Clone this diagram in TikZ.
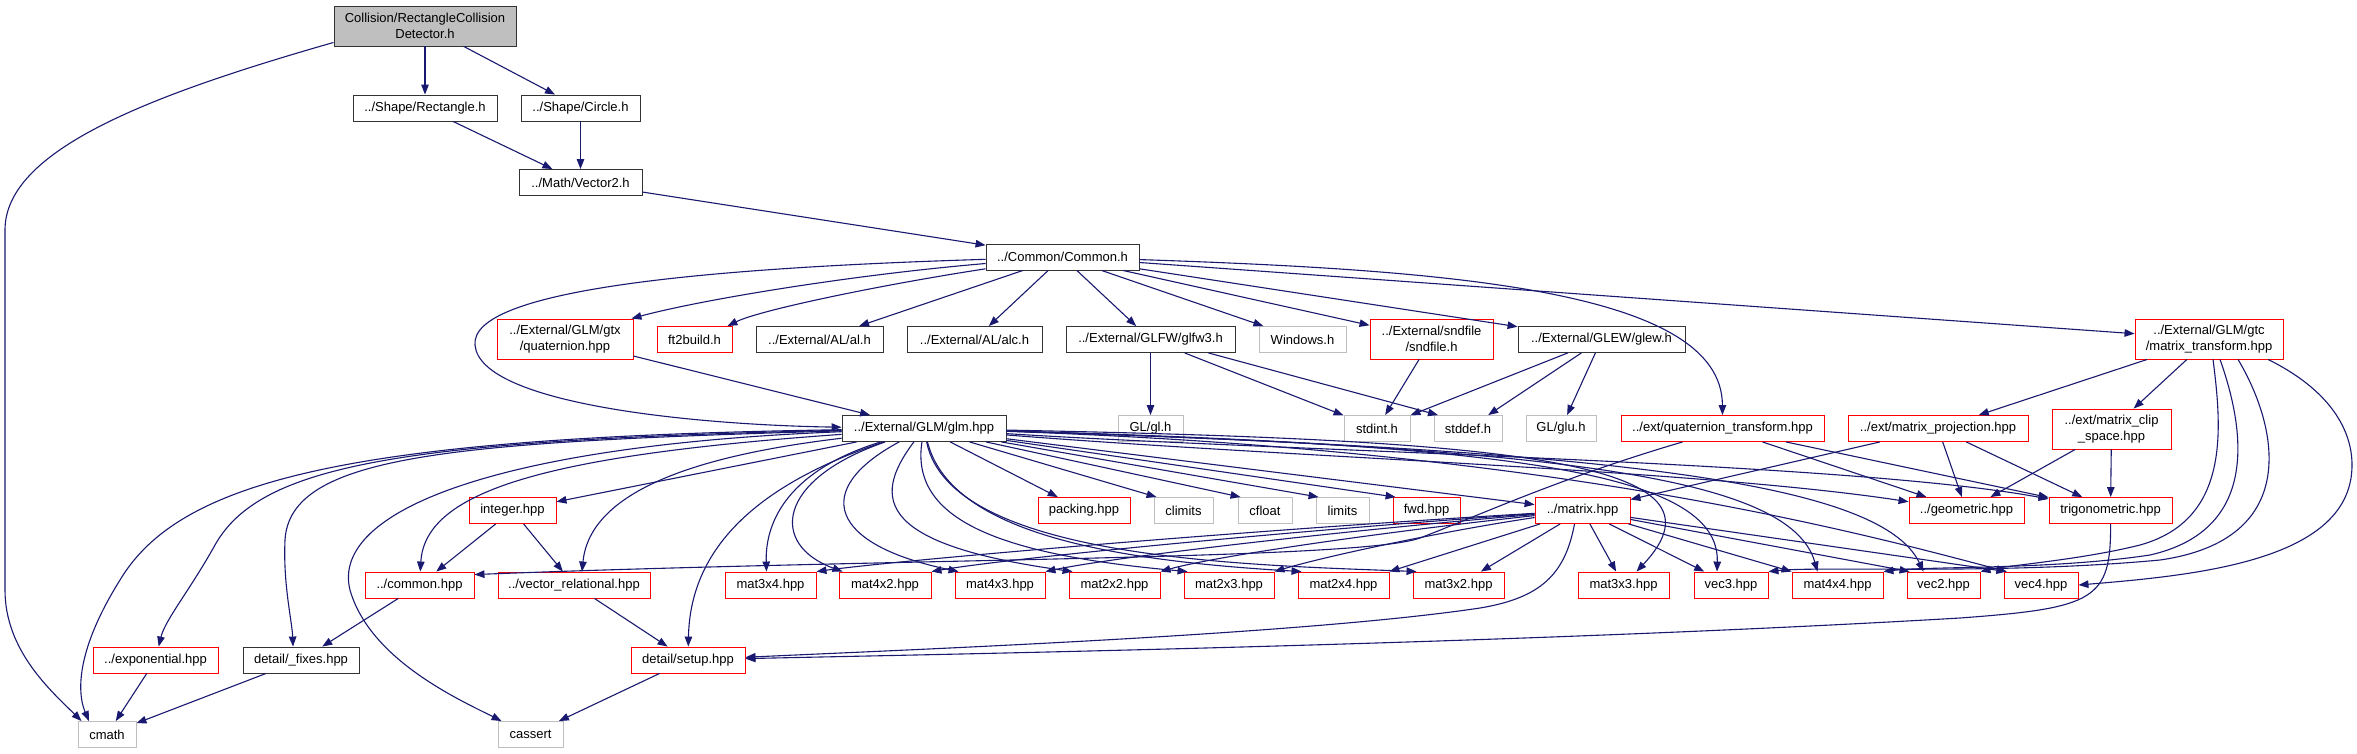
\documentclass[tikz,border=0pt]{standalone}
\usepackage{fontspec}
\setmainfont{Liberation Sans}
\usetikzlibrary{arrows.meta}
\definecolor{edgec}{HTML}{191970}
\definecolor{grayb}{HTML}{BFBFBF}
\definecolor{redb}{HTML}{FF0000}
\definecolor{blackb}{HTML}{333333}
\tikzset{
  box/.style={draw, line width=0.9pt, minimum height=26pt, inner sep=0pt, align=center,
    font=\fontsize{13}{16}\selectfont, fill=white},
  bk/.style={box, draw=blackb},
  rd/.style={box, draw=redb},
  gr/.style={box, draw=grayb},
  e/.style={draw=edgec, line width=1.1pt, -{Triangle[length=10pt,width=7.5pt]}}
}
\begin{document}
\begin{tikzpicture}[x=1pt,y=-1pt]
\fill[white] (0,0) rectangle (2357,753);
\useasboundingbox (0,0) rectangle (2357,753);
% row 0-3
\node[bk, fill=grayb, minimum width=182pt, minimum height=40pt] (root) at (425,26) {Collision/RectangleCollision\\Detector.h};
\node[bk, minimum width=144pt] (rect) at (425,108) {../Shape/Rectangle.h};
\node[bk, minimum width=119pt] (circle) at (580.5,108) {../Shape/Circle.h};
\node[bk, minimum width=123pt] (vector2) at (580.5,182.5) {../Math/Vector2.h};
\node[bk, minimum width=153pt] (common) at (1062.5,257) {../Common/Common.h};
% row 4
\node[rd, minimum width=136pt, minimum height=40pt] (quat) at (565,339) {../External/GLM/gtx\\/quaternion.hpp};
\node[rd, minimum width=75pt] (ft2) at (694.5,339.5) {ft2build.h};
\node[bk, minimum width=127pt] (al) at (819.5,339.5) {../External/AL/al.h};
\node[bk, minimum width=135pt] (alc) at (974.5,339.5) {../External/AL/alc.h};
\node[bk, minimum width=169pt] (glfw) at (1150.5,339.5) {../External/GLFW/glfw3.h};
\node[gr, minimum width=87pt] (windows) at (1302.5,339.5) {Windows.h};
\node[rd, minimum width=123pt, minimum height=40pt] (sndfile) at (1431.5,339) {../External/sndfile\\/sndfile.h};
\node[bk, minimum width=167pt] (glew) at (1601.5,339.5) {../External/GLEW/glew.h};
\node[rd, minimum width=148pt, minimum height=40pt] (mtrans) at (2209,339) {../External/GLM/gtc\\/matrix\_transform.hpp};
% row 5
\node[bk, minimum width=164pt] (glm) at (924,428.5) {../External/GLM/glm.hpp};
\node[gr, minimum width=65pt] (gl) at (1150.5,428.5) {GL/gl.h};
\node[gr, minimum width=66pt] (stdint) at (1377,428.5) {stdint.h};
\node[gr, minimum width=68pt] (stddef) at (1468,428.5) {stddef.h};
\node[gr, minimum width=70pt] (glu) at (1561,428.5) {GL/glu.h};
\node[rd, minimum width=203pt] (qtrans) at (1722.5,428.5) {../ext/quaternion\_transform.hpp};
\node[rd, minimum width=180pt] (mproj) at (1938,428.5) {../ext/matrix\_projection.hpp};
\node[rd, minimum width=119pt, minimum height=40pt] (mclip) at (2111.5,429) {../ext/matrix\_clip\\\_space.hpp};
% row 6
\node[rd, minimum width=87pt] (integer) at (512.5,510.5) {integer.hpp};
\node[rd, minimum width=92pt] (packing) at (1084,510.5) {packing.hpp};
\node[gr, minimum width=59pt] (climits) at (1183.5,510.5) {climits};
\node[gr, minimum width=54pt] (cfloat) at (1265,510.5) {cfloat};
\node[gr, minimum width=53pt] (limits) at (1342.5,510.5) {limits};
\node[rd, minimum width=67pt] (fwd) at (1426.5,510.5) {fwd.hpp};
\node[rd, minimum width=95pt] (matrix) at (1582.5,510.5) {../matrix.hpp};
\node[rd, minimum width=115pt] (geometric) at (1966.5,510.5) {../geometric.hpp};
\node[rd, minimum width=123pt] (trig) at (2110.5,510.5) {trigonometric.hpp};
% row 7
\node[rd, minimum width=109pt] (commonhpp) at (419.5,585) {../common.hpp};
\node[rd, minimum width=152pt] (vecrel) at (574,585) {../vector\_relational.hpp};
\node[rd, minimum width=91pt] (mat3x4) at (770.5,585) {mat3x4.hpp};
\node[rd, minimum width=92pt] (mat4x2) at (885,585) {mat4x2.hpp};
\node[rd, minimum width=90pt] (mat4x3) at (1000,585) {mat4x3.hpp};
\node[rd, minimum width=91pt] (mat2x2) at (1114.5,585) {mat2x2.hpp};
\node[rd, minimum width=90pt] (mat2x3) at (1229,585) {mat2x3.hpp};
\node[rd, minimum width=91pt] (mat2x4) at (1343.5,585) {mat2x4.hpp};
\node[rd, minimum width=91pt] (mat3x2) at (1458.5,585) {mat3x2.hpp};
\node[rd, minimum width=91pt] (mat3x3) at (1623.5,585) {mat3x3.hpp};
\node[rd, minimum width=74pt] (vec3) at (1731,585) {vec3.hpp};
\node[rd, minimum width=91pt] (mat4x4) at (1837.5,585) {mat4x4.hpp};
\node[rd, minimum width=73pt] (vec2) at (1943.5,585) {vec2.hpp};
\node[rd, minimum width=74pt] (vec4) at (2041,585) {vec4.hpp};
% row 8-9
\node[rd, minimum width=125pt] (expo) at (155.5,660) {../exponential.hpp};
\node[bk, minimum width=116pt] (fixes) at (301,660) {detail/\_fixes.hpp};
\node[rd, minimum width=114pt] (setup) at (688,660) {detail/setup.hpp};
\node[gr, minimum width=58pt] (cmath) at (107,734.5) {cmath};
\node[gr, minimum width=65pt] (cassert) at (530.5,734.5) {cassert};

% ---- edges: top
\draw[e] (root) -- (rect);
\draw[e] (root) -- (circle);
\draw[e] ([yshift=4pt]root.south west) .. controls (150,95) and (5,150) .. (5,230) -- (5,590) .. controls (5,650) and (50,690) .. ([xshift=4pt]cmath.north west);
\draw[e] (rect) -- (vector2);
\draw[e] (circle) -- (vector2);
\draw[e] (vector2) -- (common);
% common
\draw[e] (common) .. controls (700,268) and (470,290) .. (475,345) .. controls (480,405) and (700,425) .. (glm);
\draw[e] (common) .. controls (850,275) and (700,300) .. ([xshift=-2pt]quat.north east);
\draw[e] (common) .. controls (880,285) and (760,310) .. ([xshift=-5pt]ft2.north east);
\draw[e] (common) -- (al);
\draw[e] (common) -- (alc);
\draw[e] (common) -- (glfw);
\draw[e] (common) -- (windows);
\draw[e] (common) -- (sndfile);
\draw[e] (common) -- (glew);
\draw[e] (common) -- (mtrans);
\draw[e] (common) .. controls (1450,270) and (1722,290) .. (qtrans);
% glfw, sndfile, glew
\draw[e] (glfw) -- (gl);
\draw[e] (glfw) -- (stdint);
\draw[e] ([xshift=58pt]glfw.south) -- ([xshift=-30pt]stddef.north);
\draw[e] (sndfile) -- (stdint);
\draw[e] (glew) -- (stdint);
\draw[e] (glew) -- (stddef);
\draw[e] (glew) -- (glu);
% matrix_transform
\draw[e] (mtrans) -- (mproj);
\draw[e] (mtrans) -- (mclip);
\draw[e] ([xshift=4pt]mtrans.south) .. controls (2222,430) and (2230,520) .. (2140,545) .. controls (2080,560) and (2010,565) .. (vec2.north east);
\draw[e] ([xshift=11pt]mtrans.south) .. controls (2245,430) and (2260,530) .. (2150,555) .. controls (2050,570) and (1930,566) .. (mat4x4.north east);
\draw[e] ([xshift=29pt]mtrans.south) .. controls (2280,430) and (2300,540) .. (2160,560) .. controls (2000,575) and (1820,566) .. (vec3.north east);
\draw[e] ([xshift=59pt]mtrans.south) .. controls (2330,390) and (2352,430) .. (2352,465) .. controls (2352,560) and (2200,575) .. (vec4.east);
% quaternion_transform, projection, clip space
\draw[e] ([xshift=-40pt]qtrans.south) .. controls (1560,478) and (1480,515) .. (1420,538) .. controls (1360,560) and (900,558) .. ([yshift=-3pt]commonhpp.north east);
\draw[e] (qtrans) -- (geometric);
\draw[e] (qtrans) -- (trig);
\draw[e] (mproj) -- (matrix);
\draw[e] (mproj) -- (geometric);
\draw[e] (mproj) -- (trig);
\draw[e] (mclip) -- (geometric);
\draw[e] (mclip) -- (trig);
\draw[e] (trig) .. controls (2111,600) and (2095,608) .. (1960,618) .. controls (1500,645) and (900,655) .. (setup);
% matrix.hpp
\draw[e] ([xshift=-8pt]matrix.south) .. controls (1565,575) and (1540,598) .. (1480,608) .. controls (1300,635) and (900,650) .. (setup);
\draw[e] (matrix) -- (mat3x2);
\draw[e] (matrix) -- (mat2x4.north east);
\draw[e] (matrix) .. controls (1450,530) and (1330,555) .. (mat2x3.north east);
\draw[e] (matrix) .. controls (1400,530) and (1220,555) .. (mat2x2.north east);
\draw[e] (matrix) .. controls (1350,530) and (1120,556) .. (mat4x3.north east);
\draw[e] (matrix) .. controls (1300,530) and (1010,558) .. (mat4x2.north east);
\draw[e] (matrix) .. controls (1250,530) and (900,560) .. (mat3x4.north east);
\draw[e] (matrix) -- (mat3x3);
\draw[e] (matrix) -- (vec3);
\draw[e] (matrix) -- (mat4x4);
\draw[e] (matrix) -- ([xshift=3pt]vec2.north west);
\draw[e] (matrix) -- ([xshift=3pt]vec4.north west);
% glm.hpp right side
\draw[e] (glm) -- (packing);
\draw[e] (glm) -- ([xshift=3pt]climits.north west);
\draw[e] (glm) -- ([xshift=3pt]cfloat.north west);
\draw[e] (glm) -- ([xshift=3pt]limits.north west);
\draw[e] (glm) -- ([xshift=3pt]fwd.north west);
\draw[e] (glm) -- (matrix);
\draw[e] (glm) .. controls (1300,458) and (1700,470) .. (geometric);
\draw[e] (glm) .. controls (1300,452) and (1850,462) .. (trig);
\draw[e] (glm) .. controls (1520,440) and (1740,462) .. ([xshift=13pt]mat3x3.north);
\draw[e] (glm) .. controls (1500,445) and (1720,470) .. ([xshift=-14pt]vec3.north);
\draw[e] (glm) .. controls (1550,448) and (1790,475) .. ([xshift=-20pt]mat4x4.north);
\draw[e] (glm) .. controls (1600,450) and (1880,480) .. ([xshift=-20pt]vec2.north);
\draw[e] (glm) .. controls (1550,450) and (1850,530) .. ([xshift=3pt]vec4.north west);
% glm.hpp lower
\draw[e] (glm) .. controls (790,470) and (765,520) .. ([xshift=-4pt]mat3x4.north);
\draw[e] (glm) .. controls (775,480) and (770,545) .. ([xshift=4pt]mat4x2.north west);
\draw[e] (glm) .. controls (810,490) and (830,545) .. ([xshift=4pt]mat4x3.north west);
\draw[e] (glm) .. controls (870,500) and (880,545) .. ([xshift=4pt]mat2x2.north west);
\draw[e] (glm) .. controls (910,520) and (1000,555) .. ([xshift=4pt]mat2x3.north west);
\draw[e] (glm) .. controls (950,530) and (1100,560) .. ([xshift=4pt]mat2x4.north west);
\draw[e] (glm) .. controls (950,560) and (1250,565) .. ([xshift=4pt]mat3x2.north west);
% glm.hpp left side
\draw[e] (glm) -- (integer);
\draw[e] (glm) .. controls (550,455) and (425,490) .. (commonhpp);
\draw[e] (glm) .. controls (700,455) and (590,490) .. ([xshift=8pt]vecrel.north);
\draw[e] (glm) .. controls (740,490) and (690,560) .. (setup);
\draw[e] (glm) .. controls (500,445) and (330,510) .. (350,590) .. controls (370,660) and (460,700) .. ([xshift=4pt]cassert.north west);
\draw[e] (glm) .. controls (450,442) and (290,455) .. (285,540) .. controls (283,585) and (292,620) .. ([xshift=-8pt]fixes.north);
\draw[e] (glm) .. controls (400,440) and (260,465) .. (215,545) .. controls (190,590) and (165,620) .. (expo);
\draw[e] (glm) .. controls (350,437) and (180,480) .. (120,580) .. controls (70,660) and (80,700) .. ([xshift=-18pt]cmath.north);
% remaining
\draw[e] (quat) -- (glm);
\draw[e] (integer) -- (commonhpp);
\draw[e] (integer) -- (vecrel);
\draw[e] (commonhpp) -- (fixes);
\draw[e] (vecrel) -- (setup);
\draw[e] (expo) -- (cmath);
\draw[e] (fixes) -- (cmath);
\draw[e] (setup) -- (cassert);
\end{tikzpicture}
\end{document}
